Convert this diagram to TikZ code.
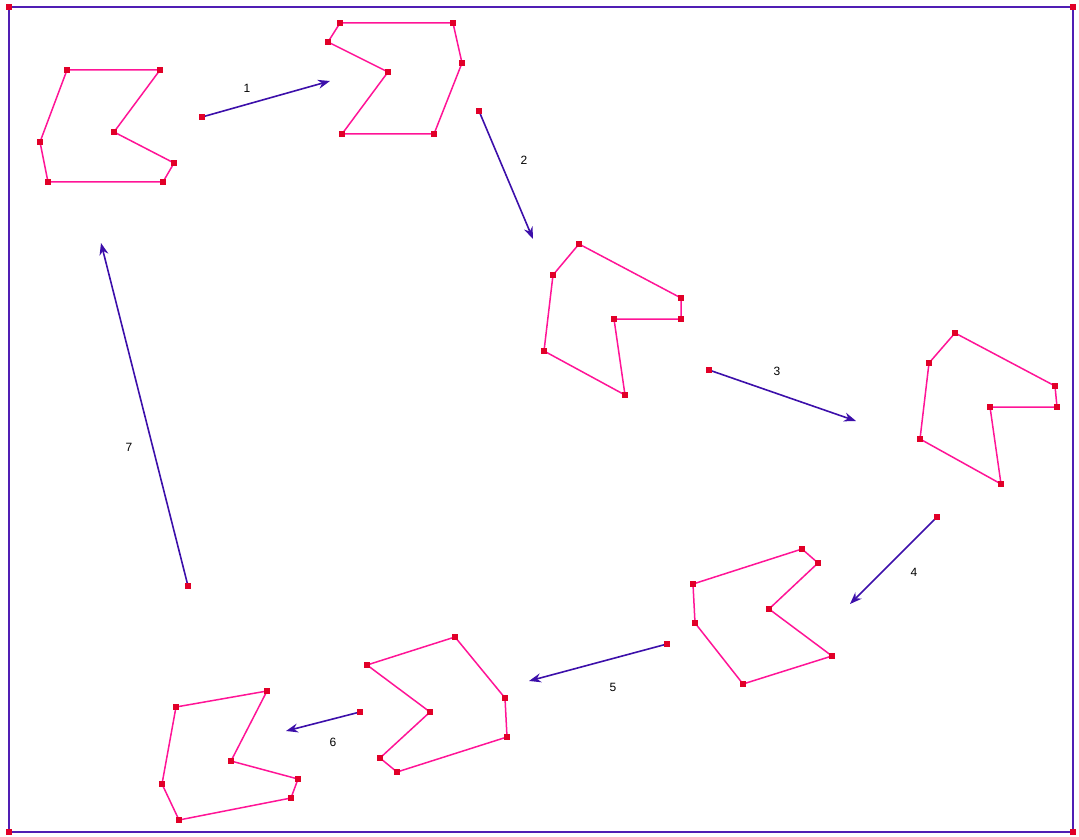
\documentclass[tikz,border=0pt]{standalone}
\usepackage{fontspec}
\setmainfont{Liberation Sans}
\usetikzlibrary{arrows.meta}
\definecolor{poly}{RGB}{255,20,150}
\definecolor{vert}{RGB}{225,0,40}
\definecolor{arr}{RGB}{60,15,170}
\definecolor{frm}{RGB}{80,30,180}
\tikzset{
  polyline/.style={draw=poly, line width=1.5pt, line join=miter},
  vbox/.style={fill=vert, minimum size=6pt, inner sep=0pt, outer sep=0pt, rectangle},
  movearrow/.style={draw=arr, line width=1.6pt, -{Stealth[length=12pt,width=9pt]}},
  numlabel/.style={font=\fontsize{12}{14}\selectfont, text=black, inner sep=0pt},
  framebox/.style={draw=frm, line width=1.8pt}
}
\begin{document}
\begin{tikzpicture}[x=1pt,y=-1pt]
\useasboundingbox (0,0) rectangle (1079,837);
% frame
\coordinate (f1) at (9,7); \coordinate (f2) at (1073,7);
\coordinate (f3) at (1073,832); \coordinate (f4) at (9,832);
\draw[framebox] (f1) -- (f2) -- (f3) -- (f4) -- cycle;
\foreach \c in {f1,f2,f3,f4} \node[vbox] at (\c) {};
% polygon 1
\coordinate (a1) at (67,70); \coordinate (a2) at (160,70); \coordinate (a3) at (114,132);
\coordinate (a4) at (174,163); \coordinate (a5) at (163,182); \coordinate (a6) at (48,182);
\coordinate (a7) at (40,142);
\draw[polyline] (a1)--(a2)--(a3)--(a4)--(a5)--(a6)--(a7)--cycle;
\foreach \c in {a1,a2,a3,a4,a5,a6,a7} \node[vbox] at (\c) {};
% polygon 2
\coordinate (b1) at (340,23); \coordinate (b2) at (453,23); \coordinate (b3) at (462,63);
\coordinate (b4) at (434,134); \coordinate (b5) at (342,134); \coordinate (b6) at (388,72);
\coordinate (b7) at (328,42);
\draw[polyline] (b1)--(b2)--(b3)--(b4)--(b5)--(b6)--(b7)--cycle;
\foreach \c in {b1,b2,b3,b4,b5,b6,b7} \node[vbox] at (\c) {};
% polygon 3
\coordinate (c1) at (579,244); \coordinate (c2) at (681,298); \coordinate (c3) at (681,319);
\coordinate (c4) at (614,319); \coordinate (c5) at (625,395); \coordinate (c6) at (544,351);
\coordinate (c7) at (553,275);
\draw[polyline] (c1)--(c2)--(c3)--(c4)--(c5)--(c6)--(c7)--cycle;
\foreach \c in {c1,c2,c3,c4,c5,c6,c7} \node[vbox] at (\c) {};
% polygon 4
\coordinate (d1) at (955,333); \coordinate (d2) at (1055,386); \coordinate (d3) at (1057,407);
\coordinate (d4) at (990,407); \coordinate (d5) at (1001,484); \coordinate (d6) at (920,439);
\coordinate (d7) at (929,363);
\draw[polyline] (d1)--(d2)--(d3)--(d4)--(d5)--(d6)--(d7)--cycle;
\foreach \c in {d1,d2,d3,d4,d5,d6,d7} \node[vbox] at (\c) {};
% polygon 5
\coordinate (e1) at (802,549); \coordinate (e2) at (818,563); \coordinate (e3) at (769,609);
\coordinate (e4) at (832,656); \coordinate (e5) at (743,684); \coordinate (e6) at (695,623);
\coordinate (e7) at (693,584);
\draw[polyline] (e1)--(e2)--(e3)--(e4)--(e5)--(e6)--(e7)--cycle;
\foreach \c in {e1,e2,e3,e4,e5,e6,e7} \node[vbox] at (\c) {};
% polygon 6
\coordinate (g1) at (455,637); \coordinate (g2) at (505,698); \coordinate (g3) at (507,737);
\coordinate (g4) at (397,772); \coordinate (g5) at (380,758); \coordinate (g6) at (430,712);
\coordinate (g7) at (367,665);
\draw[polyline] (g1)--(g2)--(g3)--(g4)--(g5)--(g6)--(g7)--cycle;
\foreach \c in {g1,g2,g3,g4,g5,g6,g7} \node[vbox] at (\c) {};
% polygon 7
\coordinate (h1) at (267,691); \coordinate (h2) at (231,761); \coordinate (h3) at (298,779);
\coordinate (h4) at (291,798); \coordinate (h5) at (179,820); \coordinate (h6) at (162,784);
\coordinate (h7) at (176,707);
\draw[polyline] (h1)--(h2)--(h3)--(h4)--(h5)--(h6)--(h7)--cycle;
\foreach \c in {h1,h2,h3,h4,h5,h6,h7} \node[vbox] at (\c) {};
% arrows
\coordinate (s1) at (202,117); \coordinate (t1) at (330,81);
\coordinate (s2) at (479,111); \coordinate (t2) at (533,239);
\coordinate (s3) at (709,370); \coordinate (t3) at (856,421);
\coordinate (s4) at (937,517); \coordinate (t4) at (850,604);
\coordinate (s5) at (667,644); \coordinate (t5) at (529,681);
\coordinate (s6) at (360,712); \coordinate (t6) at (286,731);
\coordinate (s7) at (188,586); \coordinate (t7) at (101,243);
\foreach \i in {1,...,7} {
  \draw[movearrow] (s\i) -- (t\i);
  \node[vbox] at (s\i) {};
}
\node[numlabel] (l1) at (247,88) {1};
\node[numlabel] (l2) at (524,160) {2};
\node[numlabel] (l3) at (777,371) {3};
\node[numlabel] (l4) at (914,572) {4};
\node[numlabel] (l5) at (613,687) {5};
\node[numlabel] (l6) at (333,742) {6};
\node[numlabel] (l7) at (129,447) {7};
\end{tikzpicture}
\end{document}
